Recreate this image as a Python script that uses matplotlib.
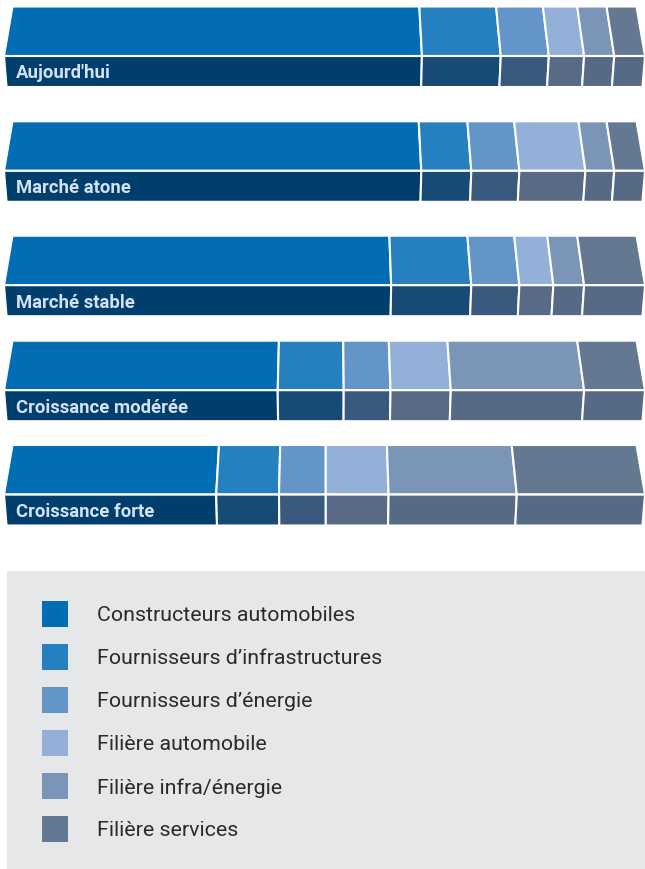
import matplotlib.pyplot as plt
import numpy as np
from matplotlib.patches import Polygon, Rectangle

plt.rcParams["font.family"] = ["Roboto", "DejaVu Sans"]

# Share of each actor per scenario (%)
scenarios = [
    "Aujourd'hui",
    "Marché atone",
    "Marché stable",
    "Croissance modérée",
    "Croissance forte",
]
constructeurs = [65.2, 65.1, 60.4, 42.7, 33.1]
fourn_infra = [12.3, 7.8, 12.5, 10.3, 9.8]
fourn_energie = [7.5, 7.5, 7.5, 7.3, 7.3]
filiere_auto = [5.5, 10.3, 5.3, 9.4, 9.8]
filiere_infra = [4.7, 4.5, 4.8, 20.8, 20.0]
filiere_services = [4.8, 4.8, 9.5, 9.5, 20.0]

series_labels = [
    "Constructeurs automobiles",
    "Fournisseurs d\u2019infrastructures",
    "Fournisseurs d\u2019énergie",
    "Filière automobile",
    "Filière infra/énergie",
    "Filière services",
]
top_colors = ["#006db4", "#2680c0", "#6495c9", "#93b1d8", "#7b95b8", "#647891"]
front_colors = ["#003e6e", "#174a75", "#395a7e", "#586a85", "#566a86", "#566a86"]

W, H = 645, 870
fig = plt.figure(figsize=(W / 100, H / 100), dpi=100)

# bar axes: x in percent, y in pixels (top down)
ax = fig.add_axes([0, 0, 1, 1])
ax.set_xlim(-4 / 641 * 100, 100)
ax.set_ylim(H, 0)
ax.axis("off")

# overlay axes in pixel units for the legend panel and labels
pax = fig.add_axes([0, 0, 1, 1])
pax.set_xlim(0, W)
pax.set_ylim(H, 0)
pax.axis("off")
pax.patch.set_alpha(0)

bar_tops = [7.5, 122.3, 236.7, 341.7, 446.0]
face_h = 49.5
front_h = 31.0
vx = 50.0
k_top = 0.9735
k_bot = 0.992


def xt(x):
    return vx + (x - vx) * k_top


def xb(x):
    return vx + (x - vx) * k_bot


data = np.array([constructeurs, fourn_infra, fourn_energie,
                 filiere_auto, filiere_infra, filiere_services]).T

for i, name in enumerate(scenarios):
    y0 = bar_tops[i]
    y1 = y0 + face_h
    y2 = y1 + front_h
    vals = data[i]
    edges = np.concatenate([[0], np.cumsum(vals)])
    edges = edges / edges[-1] * 100
    for j in range(len(vals)):
        a, b = edges[j], edges[j + 1]
        top = Polygon([(xt(a), y0), (xt(b), y0), (b, y1), (a, y1)],
                      closed=True, facecolor=top_colors[j],
                      edgecolor="white", linewidth=1.5)
        front = Polygon([(a, y1), (b, y1), (xb(b), y2), (xb(a), y2)],
                        closed=True, facecolor=front_colors[j],
                        edgecolor="white", linewidth=1.5)
        ax.add_patch(top)
        ax.add_patch(front)
        # faint highlight on the ridge between faces
        ax.plot([a + 0.3, b - 0.3], [y1, y1], color="white", alpha=0.25,
                linewidth=0.8, solid_capstyle="butt")
    pax.text(16, y1 + front_h / 2 + 1, name, color="#d3e1f3", fontsize=13.3,
             fontweight="bold", va="center", ha="left", zorder=5)

# legend panel
pax.add_patch(Rectangle((7, 572), W - 7, H - 572, facecolor="#e6e7e9",
                        edgecolor="none", zorder=0))
for j, lab in enumerate(series_labels):
    yc = 615 + j * 43
    pax.add_patch(Rectangle((42, yc - 13), 26, 26, facecolor=top_colors[j],
                            edgecolor="none", zorder=1))
    pax.text(97, yc + 1, lab, color="#2b2b2b", fontsize=15.4,
             va="center", ha="left", zorder=1)

fig.savefig("out.png", dpi=100)
